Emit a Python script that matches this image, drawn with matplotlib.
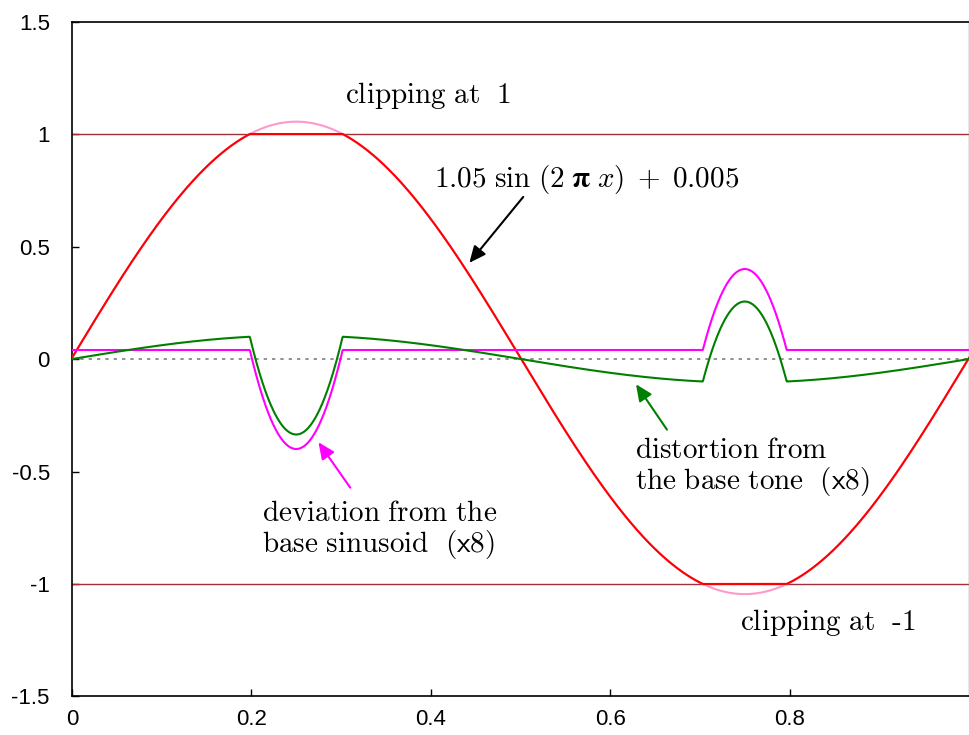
import numpy as np
import matplotlib
matplotlib.use("Agg")
import matplotlib.pyplot as plt

plt.rcParams['mathtext.fontset'] = 'cm'
plt.rcParams['font.family'] = ['Liberation Sans', 'DejaVu Sans']

# Signal parameters
amplitude = 1.05
offset = 0.005
clip_level = 1.0
scale = 8

x_ticks = [0, 0.2, 0.4, 0.6, 0.8]
x_tick_labels = ["0", "0.2", "0.4", "0.6", "0.8"]
y_ticks = [1.5, 1, 0.5, 0, -0.5, -1, -1.5]
y_tick_labels = ["1.5", "1", "0.5", "0", "-0.5", "-1", "-1.5"]

# Curves
x = np.linspace(0, 1, 2001)
base = amplitude * np.sin(2 * np.pi * x) + offset
clipped = np.clip(base, -clip_level, clip_level)
deviation = scale * (clipped - amplitude * np.sin(2 * np.pi * x))

# Fundamental (base tone) of the clipped signal
xf = np.linspace(0, 1, 20000, endpoint=False)
cf = np.clip(amplitude * np.sin(2 * np.pi * xf) + offset, -clip_level, clip_level)
b1 = 2 * np.mean(cf * np.sin(2 * np.pi * xf))
distortion = scale * (clipped - b1 * np.sin(2 * np.pi * x) - offset)

fig = plt.figure(figsize=(9.7, 7.35), dpi=100)
ax = fig.add_axes([0.0742, 0.0524, 0.9248, 0.9183])

ax.axhline(0, color='#808080', lw=1.2, ls=(0, (2, 3)), zorder=1)
ax.axhline(clip_level, color='#a0303a', lw=1.0, zorder=2)
ax.axhline(-clip_level, color='#a0303a', lw=1.0, zorder=2)
ax.plot(x, base, color='#ff99cc', lw=1.5, zorder=3)
ax.plot(x, clipped, color='#ff0000', lw=1.5, zorder=4)
ax.plot(x, deviation, color='#ff00ff', lw=1.5, zorder=5)
ax.plot(x, distortion, color='#008000', lw=1.5, zorder=6)

txt_kw = dict(fontsize=21, va='center', ha='left')
ax.text(0.304, 1.17, r"$\mathrm{clipping\ at\ \ 1}$", **txt_kw)
ax.text(0.745, -1.17, r"$\mathrm{clipping\ at\ \ \text{-}1}$", **txt_kw)
ax.text(0.404, 0.80,
        r"$1.05\ \sin\,(2\;\mathbf{π}\;x)\;+\;0.005$", **txt_kw)
ax.text(0.212, -0.76, r"$\mathrm{deviation\ from\ the}$" + "\n" +
        r"$\mathrm{base\ sinusoid\ \ (}\mathsf{x8}\mathrm{)}$",
        linespacing=1.05, **txt_kw)
ax.text(0.628, -0.48, r"$\mathrm{distortion\ from}$" + "\n" +
        r"$\mathrm{the\ base\ tone\ \ (}\mathsf{x8}\mathrm{)}$",
        linespacing=1.05, **txt_kw)

arrow = dict(arrowstyle='-|>,head_length=1.0,head_width=0.45', lw=1.5)
ax.annotate("", xy=(0.441, 0.418), xytext=(0.505, 0.73),
            arrowprops=dict(color='black', **arrow))
ax.annotate("", xy=(0.273, -0.36), xytext=(0.312, -0.582),
            arrowprops=dict(color='#ff00ff', **arrow))
ax.annotate("", xy=(0.627, -0.102), xytext=(0.665, -0.324),
            arrowprops=dict(color='#008000', **arrow))

ax.set_xlim(0, 1)
ax.set_ylim(-1.5, 1.5)
ax.set_xticks(x_ticks)
ax.set_xticklabels(x_tick_labels)
ax.set_yticks(y_ticks)
ax.set_yticklabels(y_tick_labels)
ax.tick_params(direction='in', length=5, width=1, labelsize=16)
ax.tick_params(axis='y', pad=16)
ax.tick_params(axis='x', pad=9)
for s in ['left', 'bottom', 'top']:
    ax.spines[s].set_color('black')
    ax.spines[s].set_linewidth(1.2)
ax.spines['right'].set_color('#888888')
ax.spines['right'].set_linewidth(1.0)

fig.savefig("out.png", dpi=100)
